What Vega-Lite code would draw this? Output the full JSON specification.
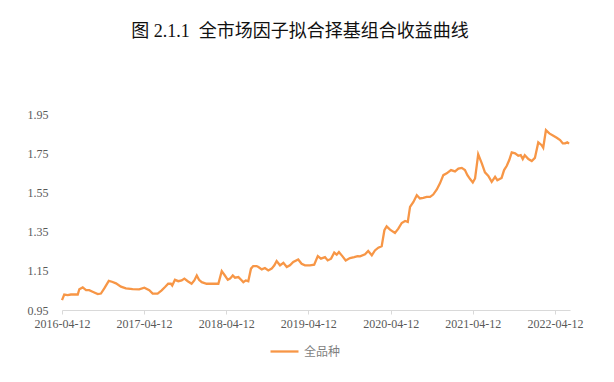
{
  "$schema": "https://vega.github.io/schema/vega-lite/v6.json",
  "autosize": "none",
  "width": 508,
  "height": 196,
  "padding": {"left": 62, "top": 114, "right": 44, "bottom": 72},
  "background": "#ffffff",
  "title": {
    "text": "图 2.1.1\u00a0\u00a0全市场因子拟合择基组合收益曲线",
    "anchor": "middle",
    "frame": "group",
    "dx": -16,
    "baseline": "bottom",
    "offset": 49,
    "font": "Liberation Serif, Noto Sans CJK SC",
    "fontSize": 18,
    "fontWeight": "normal",
    "color": "#111111"
  },
  "config": {
    "view": {"stroke": null},
    "axis": {"grid": false, "domain": false, "labelFont": "Liberation Serif", "labelFontSize": 12, "labelColor": "#595959"}
  },
  "data": {
    "values": [
      {"date": "2016-04-12", "nav": 1.000},
      {"date": "2016-04-22", "nav": 1.029},
      {"date": "2016-05-07", "nav": 1.026},
      {"date": "2016-05-22", "nav": 1.029},
      {"date": "2016-06-21", "nav": 1.029},
      {"date": "2016-06-28", "nav": 1.056},
      {"date": "2016-07-13", "nav": 1.065},
      {"date": "2016-07-28", "nav": 1.051},
      {"date": "2016-08-11", "nav": 1.051},
      {"date": "2016-08-26", "nav": 1.043},
      {"date": "2016-09-18", "nav": 1.031},
      {"date": "2016-10-02", "nav": 1.034},
      {"date": "2016-10-17", "nav": 1.060},
      {"date": "2016-11-06", "nav": 1.099},
      {"date": "2016-11-20", "nav": 1.094},
      {"date": "2016-12-08", "nav": 1.086},
      {"date": "2016-12-30", "nav": 1.069},
      {"date": "2017-01-21", "nav": 1.060},
      {"date": "2017-02-20", "nav": 1.056},
      {"date": "2017-03-21", "nav": 1.055},
      {"date": "2017-04-13", "nav": 1.064},
      {"date": "2017-05-05", "nav": 1.051},
      {"date": "2017-05-20", "nav": 1.034},
      {"date": "2017-06-11", "nav": 1.034},
      {"date": "2017-06-29", "nav": 1.050},
      {"date": "2017-07-14", "nav": 1.067},
      {"date": "2017-07-28", "nav": 1.084},
      {"date": "2017-08-09", "nav": 1.084},
      {"date": "2017-08-15", "nav": 1.075},
      {"date": "2017-08-27", "nav": 1.104},
      {"date": "2017-09-11", "nav": 1.097},
      {"date": "2017-09-26", "nav": 1.101},
      {"date": "2017-10-08", "nav": 1.110},
      {"date": "2017-10-23", "nav": 1.097},
      {"date": "2017-11-09", "nav": 1.084},
      {"date": "2017-11-21", "nav": 1.101},
      {"date": "2017-12-02", "nav": 1.126},
      {"date": "2017-12-12", "nav": 1.104},
      {"date": "2017-12-24", "nav": 1.092},
      {"date": "2018-01-15", "nav": 1.084},
      {"date": "2018-02-13", "nav": 1.084},
      {"date": "2018-03-08", "nav": 1.084},
      {"date": "2018-03-23", "nav": 1.148},
      {"date": "2018-04-06", "nav": 1.126},
      {"date": "2018-04-19", "nav": 1.104},
      {"date": "2018-04-29", "nav": 1.110},
      {"date": "2018-05-11", "nav": 1.126},
      {"date": "2018-05-21", "nav": 1.115},
      {"date": "2018-06-05", "nav": 1.118},
      {"date": "2018-06-17", "nav": 1.104},
      {"date": "2018-06-27", "nav": 1.092},
      {"date": "2018-07-08", "nav": 1.101},
      {"date": "2018-07-19", "nav": 1.097},
      {"date": "2018-07-31", "nav": 1.161},
      {"date": "2018-08-10", "nav": 1.174},
      {"date": "2018-08-25", "nav": 1.174},
      {"date": "2018-09-02", "nav": 1.169},
      {"date": "2018-09-17", "nav": 1.157},
      {"date": "2018-10-01", "nav": 1.164},
      {"date": "2018-10-16", "nav": 1.152},
      {"date": "2018-10-31", "nav": 1.161},
      {"date": "2018-11-12", "nav": 1.178},
      {"date": "2018-11-22", "nav": 1.200},
      {"date": "2018-12-07", "nav": 1.178},
      {"date": "2018-12-22", "nav": 1.191},
      {"date": "2019-01-06", "nav": 1.169},
      {"date": "2019-01-20", "nav": 1.178},
      {"date": "2019-02-04", "nav": 1.195},
      {"date": "2019-02-26", "nav": 1.208},
      {"date": "2019-03-13", "nav": 1.186},
      {"date": "2019-03-28", "nav": 1.178},
      {"date": "2019-04-19", "nav": 1.178},
      {"date": "2019-05-08", "nav": 1.181},
      {"date": "2019-05-24", "nav": 1.225},
      {"date": "2019-06-07", "nav": 1.212},
      {"date": "2019-06-25", "nav": 1.220},
      {"date": "2019-07-07", "nav": 1.203},
      {"date": "2019-07-22", "nav": 1.212},
      {"date": "2019-08-05", "nav": 1.243},
      {"date": "2019-08-16", "nav": 1.232},
      {"date": "2019-08-26", "nav": 1.246},
      {"date": "2019-09-10", "nav": 1.225},
      {"date": "2019-09-25", "nav": 1.203},
      {"date": "2019-10-14", "nav": 1.215},
      {"date": "2019-11-02", "nav": 1.220},
      {"date": "2019-11-17", "nav": 1.225},
      {"date": "2019-11-28", "nav": 1.224},
      {"date": "2019-12-20", "nav": 1.234},
      {"date": "2020-01-03", "nav": 1.251},
      {"date": "2020-01-19", "nav": 1.229},
      {"date": "2020-02-02", "nav": 1.254},
      {"date": "2020-02-17", "nav": 1.268},
      {"date": "2020-03-03", "nav": 1.275},
      {"date": "2020-03-15", "nav": 1.357},
      {"date": "2020-03-25", "nav": 1.377},
      {"date": "2020-04-09", "nav": 1.360},
      {"date": "2020-05-01", "nav": 1.343},
      {"date": "2020-05-16", "nav": 1.365},
      {"date": "2020-05-31", "nav": 1.394},
      {"date": "2020-06-15", "nav": 1.404},
      {"date": "2020-06-27", "nav": 1.399},
      {"date": "2020-07-07", "nav": 1.476},
      {"date": "2020-07-22", "nav": 1.501},
      {"date": "2020-08-06", "nav": 1.536},
      {"date": "2020-08-20", "nav": 1.519},
      {"date": "2020-09-04", "nav": 1.522},
      {"date": "2020-09-19", "nav": 1.527},
      {"date": "2020-10-04", "nav": 1.527},
      {"date": "2020-10-18", "nav": 1.539},
      {"date": "2020-11-03", "nav": 1.565},
      {"date": "2020-11-17", "nav": 1.596},
      {"date": "2020-12-02", "nav": 1.638},
      {"date": "2020-12-17", "nav": 1.647},
      {"date": "2021-01-05", "nav": 1.664},
      {"date": "2021-01-23", "nav": 1.657},
      {"date": "2021-02-07", "nav": 1.671},
      {"date": "2021-02-22", "nav": 1.675},
      {"date": "2021-03-08", "nav": 1.664},
      {"date": "2021-03-19", "nav": 1.638},
      {"date": "2021-03-31", "nav": 1.618},
      {"date": "2021-04-12", "nav": 1.601},
      {"date": "2021-04-22", "nav": 1.621},
      {"date": "2021-05-06", "nav": 1.744},
      {"date": "2021-05-22", "nav": 1.698},
      {"date": "2021-06-05", "nav": 1.652},
      {"date": "2021-06-20", "nav": 1.634},
      {"date": "2021-07-05", "nav": 1.604},
      {"date": "2021-07-20", "nav": 1.629},
      {"date": "2021-07-30", "nav": 1.612},
      {"date": "2021-08-18", "nav": 1.624},
      {"date": "2021-08-29", "nav": 1.664},
      {"date": "2021-09-10", "nav": 1.686},
      {"date": "2021-09-21", "nav": 1.715},
      {"date": "2021-10-02", "nav": 1.754},
      {"date": "2021-10-17", "nav": 1.749},
      {"date": "2021-10-31", "nav": 1.737},
      {"date": "2021-11-11", "nav": 1.740},
      {"date": "2021-11-20", "nav": 1.720},
      {"date": "2021-11-29", "nav": 1.740},
      {"date": "2021-12-15", "nav": 1.720},
      {"date": "2021-12-30", "nav": 1.710},
      {"date": "2022-01-13", "nav": 1.726},
      {"date": "2022-01-28", "nav": 1.805},
      {"date": "2022-02-12", "nav": 1.791},
      {"date": "2022-02-19", "nav": 1.778},
      {"date": "2022-03-03", "nav": 1.868},
      {"date": "2022-03-18", "nav": 1.851},
      {"date": "2022-04-05", "nav": 1.839},
      {"date": "2022-04-20", "nav": 1.829},
      {"date": "2022-05-05", "nav": 1.817},
      {"date": "2022-05-17", "nav": 1.800},
      {"date": "2022-05-27", "nav": 1.800},
      {"date": "2022-06-06", "nav": 1.805},
      {"date": "2022-06-14", "nav": 1.799}
    ]
  },
  "mark": {"type": "line", "strokeWidth": 2.3, "interpolate": "linear"},
  "encoding": {
    "x": {
      "field": "date",
      "type": "temporal",
      "title": null,
      "scale": {
        "type": "utc",
        "domain": [
          {"year": 2016, "month": 4, "date": 12, "utc": true},
          {"year": 2022, "month": 6, "date": 18, "utc": true}
        ]
      },
      "axis": {
        "domain": true,
        "domainColor": "#D9D9D9",
        "domainWidth": 1,
        "ticks": true,
        "tickColor": "#D9D9D9",
        "tickSize": 4,
        "labelPadding": 4,
        "format": "%Y-%m-%d",
        "labelOverlap": false,
        "labelFlush": false,
        "values": [
          {"year": 2016, "month": 4, "date": 12, "utc": true},
          {"year": 2017, "month": 4, "date": 12, "utc": true},
          {"year": 2018, "month": 4, "date": 12, "utc": true},
          {"year": 2019, "month": 4, "date": 12, "utc": true},
          {"year": 2020, "month": 4, "date": 12, "utc": true},
          {"year": 2021, "month": 4, "date": 12, "utc": true},
          {"year": 2022, "month": 4, "date": 12, "utc": true}
        ]
      }
    },
    "y": {
      "field": "nav",
      "type": "quantitative",
      "title": null,
      "scale": {"domain": [0.95, 1.95], "zero": false, "nice": false},
      "axis": {
        "values": [0.95, 1.15, 1.35, 1.55, 1.75, 1.95],
        "format": ".2f",
        "ticks": false,
        "tickSize": 0,
        "labelPadding": 14,
        "labelFlush": false,
        "labelOverlap": false
      }
    },
    "color": {
      "datum": "全品种",
      "scale": {"range": ["#F79646"]},
      "legend": {
        "title": null,
        "orient": "none",
        "legendX": 207,
        "legendY": 222,
        "symbolType": "stroke",
        "symbolSize": 784,
        "symbolStrokeWidth": 2.3,
        "labelOffset": 4,
        "labelFont": "Noto Sans CJK SC",
        "labelFontSize": 12,
        "labelColor": "#7F7F7F",
        "padding": 0
      }
    }
  }
}
